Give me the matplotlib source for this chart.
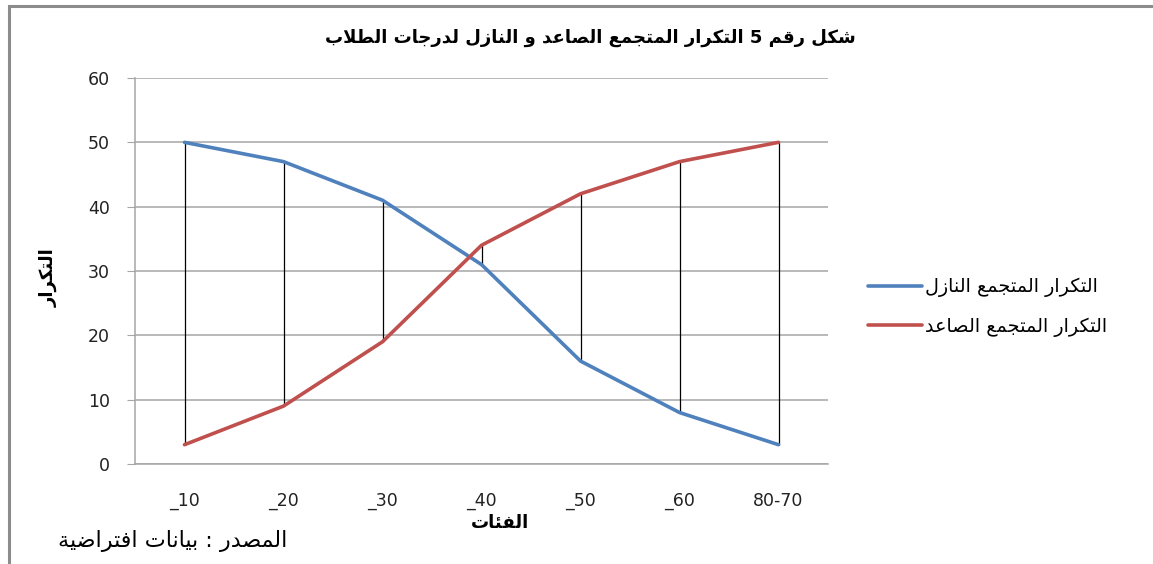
import matplotlib
matplotlib.use("Agg")
import matplotlib.pyplot as plt
from matplotlib.patches import Rectangle

# ---------------- data ----------------
categories = ["_10", "_20", "_30", "_40", "_50", "_60", "80-70"]
descending = [50, 47, 41, 31, 16, 8, 3]   # التكرار المتجمع النازل
ascending = [3, 9, 19, 34, 42, 47, 50]    # التكرار المتجمع الصاعد
yticks = [0, 10, 20, 30, 40, 50, 60]

title_txt = "شكل رقم 5 التكرار المتجمع الصاعد و النازل لدرجات الطلاب"
name_desc = "التكرار المتجمع النازل"
name_asc = "التكرار المتجمع الصاعد"
xlabel_txt = "الفئات"
ylabel_txt = "التكرار"
source_txt = "المصدر : بيانات افتراضية"

# ------------- minimal Arabic shaping (presentation forms + RTL) -------------
FORMS = {
    'ا': ('\uFE8D', '\uFE8E', None, None),
    'أ': ('\uFE83', '\uFE84', None, None),
    'إ': ('\uFE87', '\uFE88', None, None),
    'ب': ('\uFE8F', '\uFE90', '\uFE91', '\uFE92'),
    'ت': ('\uFE95', '\uFE96', '\uFE97', '\uFE98'),
    'ة': ('\uFE93', '\uFE94', None, None),
    'ج': ('\uFE9D', '\uFE9E', '\uFE9F', '\uFEA0'),
    'د': ('\uFEA9', '\uFEAA', None, None),
    'ر': ('\uFEAD', '\uFEAE', None, None),
    'ز': ('\uFEAF', '\uFEB0', None, None),
    'ش': ('\uFEB5', '\uFEB6', '\uFEB7', '\uFEB8'),
    'ص': ('\uFEB9', '\uFEBA', '\uFEBB', '\uFEBC'),
    'ض': ('\uFEBD', '\uFEBE', '\uFEBF', '\uFEC0'),
    'ط': ('\uFEC1', '\uFEC2', '\uFEC3', '\uFEC4'),
    'ع': ('\uFEC9', '\uFECA', '\uFECB', '\uFECC'),
    'ف': ('\uFED1', '\uFED2', '\uFED3', '\uFED4'),
    'ق': ('\uFED5', '\uFED6', '\uFED7', '\uFED8'),
    'ك': ('\uFED9', '\uFEDA', '\uFEDB', '\uFEDC'),
    'ل': ('\uFEDD', '\uFEDE', '\uFEDF', '\uFEE0'),
    'م': ('\uFEE1', '\uFEE2', '\uFEE3', '\uFEE4'),
    'ن': ('\uFEE5', '\uFEE6', '\uFEE7', '\uFEE8'),
    'ه': ('\uFEE9', '\uFEEA', '\uFEEB', '\uFEEC'),
    'و': ('\uFEED', '\uFEEE', None, None),
    'ي': ('\uFEF1', '\uFEF2', '\uFEF3', '\uFEF4'),
    'ئ': ('\uFE89', '\uFE8A', '\uFE8B', '\uFE8C'),
}


def shape(s):
    out = []
    n = len(s)
    i = 0
    while i < n:
        c = s[i]
        if c not in FORMS:
            out.append(c)
            i += 1
            continue
        prev = s[i - 1] if i > 0 else ''
        prev_joins = prev in FORMS and FORMS[prev][2] is not None
        if c == 'ل' and i + 1 < n and s[i + 1] == 'ا':
            out.append('\uFEFC' if prev_joins else '\uFEFB')
            i += 2
            continue
        nxt = s[i + 1] if i + 1 < n else ''
        next_joins = nxt in FORMS and FORMS[c][2] is not None
        iso, fin, ini, med = FORMS[c]
        if prev_joins and next_joins:
            out.append(med)
        elif prev_joins:
            out.append(fin)
        elif next_joins:
            out.append(ini)
        else:
            out.append(iso)
        i += 1
    return ''.join(out)[::-1]


plt.rcParams['font.family'] = ['DejaVu Sans']

W, H = 1153, 564
fig = plt.figure(figsize=(W / 100, H / 100), dpi=100)
fig.patch.set_facecolor('white')

# outer chart frame (only top/left edges visible in the reference)
fig.add_artist(Rectangle((9 / W, -0.1), 1.2, 1 - 6 / H + 0.1, transform=fig.transFigure,
                         fill=False, edgecolor='#8c8c8c', linewidth=2.2))

L, R, T, B = 135, 828, 78, 464
ax = fig.add_axes([L / W, 1 - B / H, (R - L) / W, (B - T) / H])

x = list(range(len(categories)))
blue = '#4F81BD'
red = '#C0504D'

ax.vlines(x, [min(a, d) for a, d in zip(ascending, descending)],
          [max(a, d) for a, d in zip(ascending, descending)],
          colors='black', linewidth=0.9, zorder=2)
ax.plot(x, descending, color=blue, linewidth=2.6, label=shape(name_desc), zorder=3,
        solid_capstyle='round')
ax.plot(x, ascending, color=red, linewidth=2.6, label=shape(name_asc), zorder=3,
        solid_capstyle='round')

ax.set_xlim(-0.5, len(categories) - 0.5)
ax.set_ylim(0, 60)
ax.set_yticks(yticks)
ax.set_xticks(x)
ax.set_xticklabels(categories)
ax.grid(axis='y', color='#a6a6a6', linewidth=1.1)
ax.set_axisbelow(True)
for s in ['top', 'right']:
    ax.spines[s].set_visible(False)
for s in ['left', 'bottom']:
    ax.spines[s].set_color('#a6a6a6')
    ax.spines[s].set_linewidth(1.1)
ax.tick_params(axis='y', length=6, color='#a6a6a6', labelsize=12.5, pad=12, labelcolor='#222222')
ax.tick_params(axis='x', length=0, labelsize=12.5, pad=20, labelcolor='#222222')

ax.set_ylabel(shape(ylabel_txt), fontsize=13, fontweight='bold')
ax.yaxis.set_label_coords((58 - L) / (R - L), (B - 278) / (B - T))

fig.text(500 / W, 1 - 523 / H, shape(xlabel_txt), ha='center', va='center',
         fontsize=13, fontweight='bold')
fig.text(58 / W, 1 - 541 / H, shape(source_txt), ha='left', va='center', fontsize=16)
fig.text(590 / W, 1 - 38 / H, shape(title_txt), ha='center', va='center',
         fontsize=13, fontweight='bold')

ax.legend(loc='center left', bbox_to_anchor=((851 - L) / (R - L), (B - 307) / (B - T)),
          frameon=False, fontsize=13.8, handlelength=2.8, handletextpad=0.15,
          labelspacing=1.0)

fig.savefig('out.png', dpi=100)
